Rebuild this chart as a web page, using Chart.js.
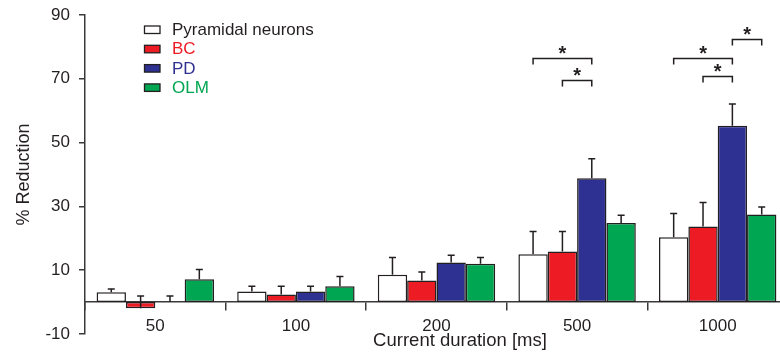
<!DOCTYPE html>
<html>
<head>
<meta charset="utf-8">
<script src="https://cdn.jsdelivr.net/npm/chart.js@4.4.0/dist/chart.umd.min.js"></script>
<style>
  html, body { margin: 0; padding: 0; overflow: hidden; background: #fff; }
  #wrap { position: absolute; left: 0; top: 0; }
</style>
</head>
<body>
<div id="wrap"><canvas id="chart" width="788" height="354"></canvas></div>
<script>
// durations on the x axis
const categories = ['50', '100', '200', '500', '1000'];
const seriesNames = ['Pyramidal neurons', 'BC', 'PD', 'OLM'];

// mean % reduction per group
const pyramidal = [3.1, 3.3, 8.6, 15.0, 20.3];
const bc        = [-1.9, 2.4, 6.8, 15.9, 23.7];
const pd        = [0, 3.3, 12.4, 38.8, 55.3];
const olm       = [7.2, 5.0, 12.0, 24.8, 27.5];

// error (drawn upward only)
const pyramidalSem = [1.0, 1.7, 5.4, 7.1, 7.5];
const bcSem        = [3.8, 2.6, 2.6, 6.2, 7.5];
const pdSem        = [1.9, 1.7, 2.3, 6.1, 6.8];
const olmSem       = [3.0, 3.0, 2.0, 2.4, 2.3];

const yTicks = [-10, 10, 30, 50, 70, 90];

// significance brackets: category index, from bar, to bar, height
const sigGroup = [3, 3, 4, 4, 4];
const sigFrom  = [0, 1, 0, 1, 2];
const sigTo    = [2, 2, 2, 2, 3];
const sigLevel = [76.4, 69.5, 76.4, 70.7, 82.3];

const fills = ['#ffffff', '#ed1c24', '#2e3192', '#00a651'];
const textColors = ['#231f20', '#ed1c24', '#2e3192', '#00a651'];
const ink = '#231f20';
const FONT = "'Liberation Sans', Arial, Helvetica, sans-serif";

Chart.defaults.font.family = FONT;
Chart.defaults.color = ink;

const values = [pyramidal, bc, pd, olm];
const sems = [pyramidalSem, bcSem, pdSem, olmSem];

const extras = {
  id: 'extras',
  afterDatasetsDraw(chart) {
    const ctx = chart.ctx;
    const y = chart.scales.y;
    ctx.save();
    ctx.strokeStyle = ink;
    ctx.lineWidth = 1.5;
    // error bars
    values.forEach((vals, i) => {
      const meta = chart.getDatasetMeta(i);
      meta.data.forEach((bar, j) => {
        const top = y.getPixelForValue(vals[j] + sems[i][j]);
        ctx.beginPath();
        ctx.moveTo(bar.x, bar.y);
        ctx.lineTo(bar.x, top);
        ctx.moveTo(bar.x - 3.5, top);
        ctx.lineTo(bar.x + 3.5, top);
        ctx.stroke();
      });
    });
    // significance brackets
    ctx.fillStyle = ink;
    ctx.font = 'bold 20px ' + FONT;
    ctx.textAlign = 'center';
    ctx.textBaseline = 'alphabetic';
    sigGroup.forEach((g, k) => {
      const x1 = chart.getDatasetMeta(sigFrom[k]).data[g].x;
      const x2 = chart.getDatasetMeta(sigTo[k]).data[g].x;
      const by = y.getPixelForValue(sigLevel[k]);
      ctx.beginPath();
      ctx.moveTo(x1, by + 6);
      ctx.lineTo(x1, by);
      ctx.lineTo(x2, by);
      ctx.lineTo(x2, by + 6);
      ctx.stroke();
      ctx.fillText('*', (x1 + x2) / 2, by + 1.5);
    });
    ctx.restore();
  },
  afterDraw(chart) {
    const ctx = chart.ctx;
    ctx.save();
    // legend
    ctx.font = '17px ' + FONT;
    ctx.textAlign = 'left';
    ctx.textBaseline = 'middle';
    seriesNames.forEach((name, i) => {
      const cy = 29.5 + i * 19.3;
      ctx.fillStyle = fills[i];
      ctx.fillRect(144.5, cy - 3.5, 15.5, 7.5);
      ctx.strokeStyle = ink;
      ctx.lineWidth = 1.3;
      ctx.strokeRect(144.5, cy - 3.5, 15.5, 7.5);
      ctx.fillStyle = textColors[i];
      ctx.fillText(name, 172, cy + 1);
    });
    // x axis title
    ctx.font = '18.5px ' + FONT;
    ctx.fillStyle = ink;
    ctx.textAlign = 'center';
    ctx.fillText('Current duration [ms]', 460, 341);
    ctx.restore();
  }
};

new Chart(document.getElementById('chart'), {
  type: 'bar',
  data: {
    labels: categories,
    datasets: values.map((vals, i) => ({
      label: seriesNames[i],
      data: vals,
      backgroundColor: fills[i],
      borderColor: ink,
      borderWidth: 1.5,
      borderSkipped: false,
      categoryPercentage: 0.835,
      barPercentage: 1.0
    }))
  },
  options: {
    responsive: false,
    animation: false,
    layout: { padding: { top: 15, bottom: 20, left: 0, right: 0 } },
    plugins: {
      legend: { display: false },
      tooltip: { enabled: false }
    },
    scales: {
      x: {
        position: { y: 0 },
        grid: { offset: true, drawOnChartArea: false, drawTicks: true, tickLength: 8, color: '#3a3a3a', lineWidth: 1.5 },
        border: { display: true, color: '#3a3a3a', width: 1.5 },
        ticks: { font: { size: 17 }, color: ink, padding: 6, maxRotation: 0 }
      },
      y: {
        min: -10,
        max: 90,
        afterBuildTicks(scale) {
          scale.ticks = yTicks.map(v => ({ value: v }));
        },
        afterFit(scale) {
          scale.width = 85;
          scale.paddingTop = 0;
          scale.paddingBottom = 0;
        },
        grid: { drawOnChartArea: false, drawTicks: true, tickLength: 6, color: '#3a3a3a', lineWidth: 1.5 },
        border: { display: true, color: '#3a3a3a', width: 1.5 },
        ticks: { font: { size: 17 }, color: ink, padding: 9 },
        title: {
          display: true,
          text: '% Reduction',
          font: { size: 18 },
          color: ink,
          padding: { top: 13, bottom: 0 }
        }
      }
    }
  },
  plugins: [extras]
});
</script>
</body>
</html>
